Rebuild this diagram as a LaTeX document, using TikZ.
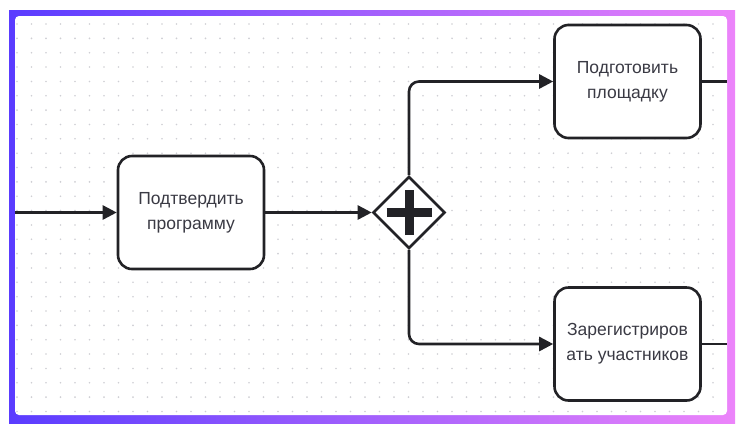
\documentclass[tikz,border=0pt]{standalone}
\usepackage{fontspec}
\setmainfont{Liberation Sans}
\usetikzlibrary{positioning,shapes.geometric,arrows.meta}
\definecolor{framel}{HTML}{5A3CFF}
\definecolor{framer}{HTML}{EC84FA}
\definecolor{inkline}{HTML}{222226}
\definecolor{inktext}{HTML}{3A3A44}
\definecolor{griddot}{HTML}{CFCFD4}

\tikzset{
  task/.style={draw=inkline,fill=white,line width=2.6pt,rounded corners=14pt,
    minimum width=146pt,minimum height=113pt,align=center,text=inktext,
    font=\fontsize{17.5}{25}\selectfont},
  gateway/.style={draw=inkline,fill=white,line width=2.6pt,diamond,aspect=1,
    minimum size=72pt,inner sep=0pt},
  flow/.style={draw=inkline,line width=2.6pt,-{Triangle[length=14pt,width=14pt]}},
  plain/.style={draw=inkline,line width=2.6pt},
  plus/.style={draw=inkline,line width=9pt}
}

\begin{document}
\begin{tikzpicture}[x=1pt,y=-1pt]
    \useasboundingbox (0,0) rectangle (746,432);

    % Frame
    \shade[left color=framel,right color=framer] (9,10) rectangle (735,423);
    \fill[white,rounded corners=4pt] (15,16) rectangle (727,415);
    \foreach \i in {0,...,48}
      \foreach \j in {0,...,27}
        \fill[griddot] (17+14.5*\i,24+14.35*\j) circle (0.9pt);

    % Tasks and gateway
    \node[task] (confirm) at (191,212.5) {Подтвердить\\программу};
    \node[gateway] (fork) at (409,212.5) {};
    \node[task] (venue) at (627.5,81.5) {Подготовить\\площадку};
    \node[task] (register) at (627.5,344) {Зарегистриров\\ать участников};
    \draw[plus] ([xshift=-22.5pt]fork.center) -- ([xshift=22.5pt]fork.center);
    \draw[plus] ([yshift=-22.5pt]fork.center) -- ([yshift=22.5pt]fork.center);

    % Loose ends
    \coordinate (start) at (15,212.5);
    \coordinate (venueout) at (727,81.5);
    \coordinate (registerout) at (727,344);

    % Flows
    \draw[flow] (start) -- (confirm);
    \draw[flow] (confirm) -- (fork);
    \draw[flow,rounded corners=10pt] (fork.north) |- (venue);
    \draw[flow,rounded corners=10pt] (fork.south) |- (register);
    \draw[plain] (venue) -- (venueout);
    \draw[plain] (register) -- (registerout);
\end{tikzpicture}
\end{document}
